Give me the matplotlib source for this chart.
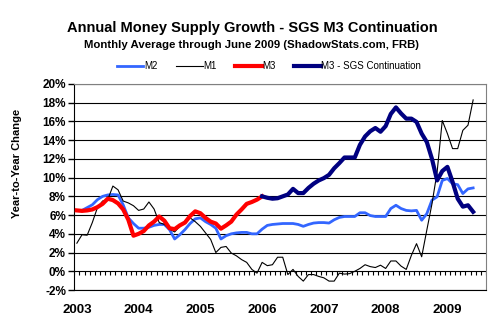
import matplotlib
matplotlib.use('Agg')
import matplotlib.pyplot as plt
import numpy as np

plt.rcParams['font.family'] = ['Liberation Sans', 'DejaVu Sans']
plt.rcParams['font.weight'] = 'bold'

# monthly year-over-year growth, Jan 2003 .. Jun 2009 (percent)
years = ['2003', '2004', '2005', '2006', '2007', '2008', '2009']

m2 = [6.5, 6.5, 6.8, 7.1, 7.65, 8.0, 8.15, 8.2, 8.15, 7.1, 5.7, 5.1,
      4.6, 4.6, 4.7, 4.9, 5.0, 5.0, 4.45, 3.45, 3.9, 4.45, 5.1, 5.6,
      5.7, 5.3, 5.0, 4.6, 3.45, 3.8, 4.0, 4.1, 4.15, 4.15, 4.0, 4.0,
      4.5, 4.9, 5.0, 5.05, 5.1, 5.1, 5.1, 5.0, 4.8, 5.0, 5.15, 5.2,
      5.2, 5.15, 5.5, 5.75, 5.85, 5.85, 5.85, 6.25, 6.25, 5.95, 5.85, 5.85,
      5.85, 6.7, 7.05, 6.7, 6.5, 6.45, 6.5, 5.45, 6.15, 7.6, 7.95, 9.7,
      9.9, 9.35, 9.25, 8.3, 8.8, 8.9]

m1 = [3.0, 3.9, 3.85, 5.2, 6.8, 7.5, 7.65, 9.1, 8.7, 7.5, 7.3, 7.0,
      6.5, 6.65, 7.4, 6.65, 5.2, 5.0, 4.5, 4.2, 4.8, 5.3, 5.7, 5.3,
      4.8, 4.1, 3.4, 2.0, 2.55, 2.65, 1.95, 1.65, 1.25, 0.95, 0.2, -0.2,
      0.95, 0.6, 0.7, 1.5, 1.5, -0.35, 0.2, -0.55, -1.05, -0.35, -0.35, -0.55,
      -0.7, -1.05, -1.05, -0.2, -0.3, -0.25, 0.0, 0.3, 0.7, 0.5, 0.4, 0.65,
      0.3, 1.1, 1.1, 0.55, 0.2, 1.7, 2.95, 1.55, 4.4, 7.2, 10.6, 16.1,
      14.7, 13.1, 13.1, 15.05, 15.6, 18.3]

# official M3, Jan 2003 .. Jan 2006
m3 = [6.5, 6.45, 6.5, 6.6, 6.85, 7.2, 7.75, 7.6, 7.25, 6.6, 5.5, 3.8,
      4.0, 4.3, 4.9, 5.3, 5.85, 5.4, 4.6, 4.5, 4.9, 5.2, 5.9, 6.4,
      6.2, 5.7, 5.3, 5.1, 4.55, 4.9, 5.3, 6.05, 6.6, 7.2, 7.4, 7.65,
      8.0]

# SGS continuation, Jan 2006 .. Jun 2009
sgs = [8.0, 7.85, 7.75, 7.8, 8.0, 8.2, 8.8, 8.35, 8.35, 8.9, 9.35, 9.7,
       9.95, 10.3, 11.0, 11.55, 12.15, 12.15, 12.15, 13.5, 14.4, 14.95, 15.3, 14.9,
       15.5, 16.8, 17.5, 16.85, 16.3, 16.3, 15.95, 14.7, 13.8, 12.0, 9.7, 10.7,
       11.15, 9.55, 7.75, 6.9, 7.05, 6.35]

x_all = np.arange(len(m2))
x_m3 = np.arange(len(m3))
x_sgs = np.arange(len(sgs)) + len(m3) - 1

fig = plt.figure(figsize=(5.04, 3.35), dpi=100)
ax = fig.add_axes([0.1474, 0.1343, 0.8169, 0.615])

for y in range(-2, 21, 2):
    ax.axhline(y, color='black', lw=0.8, zorder=1)

# monthly tick marks hanging under the zero line
ax.vlines(np.arange(-0.5, 80, 1), -0.4, 0, color='black', lw=0.8, zorder=1)

ax.plot(x_all, m2, color='#3366ff', lw=2.0, label='M2', zorder=3)
ax.plot(x_all, m1, color='black', lw=0.8, label='M1', zorder=4)
ax.plot(x_m3, m3, color='#ff0000', lw=3.0, label='M3', zorder=5)
ax.plot(x_sgs, sgs, color='#000080', lw=3.0, label='M3 - SGS Continuation', zorder=5)

ax.set_xlim(-0.5, 79.5)
ax.set_ylim(-2, 20)
ax.set_yticks(range(-2, 21, 2))
ax.set_yticklabels(['%d%%' % v for v in range(-2, 21, 2)], fontsize=8.5, fontweight='bold')
ax.tick_params(axis='y', length=4, width=1, color='black', pad=2)
ax.set_xticks(np.arange(0, 78, 12))
ax.set_xticklabels(years, fontsize=9.5, fontweight='bold')
ax.tick_params(axis='x', length=0, pad=10)

for side in ['top', 'right']:
    ax.spines[side].set_color('#808080')
ax.spines['left'].set_color('black')
ax.spines['bottom'].set_color('black')

ax.set_ylabel('Year-to-Year Change', fontsize=8, fontweight='bold')
ax.yaxis.set_label_coords(-0.128, 0.612)

fig.text(0.5, 0.916, 'Annual Money Supply Growth - SGS M3 Continuation',
         ha='center', va='center', fontsize=10.5, fontweight='bold')
fig.text(0.5, 0.866, 'Monthly Average through June 2009 (ShadowStats.com, FRB)',
         ha='center', va='center', fontsize=8.2, fontweight='bold')

fig.legend(loc='center', bbox_to_anchor=(0.534, 0.803), ncol=4, frameon=False,
           handlelength=2.7, handletextpad=0.05, columnspacing=1.95,
           prop={'size': 7, 'weight': 'normal'})

fig.savefig('out.png', dpi=100)
